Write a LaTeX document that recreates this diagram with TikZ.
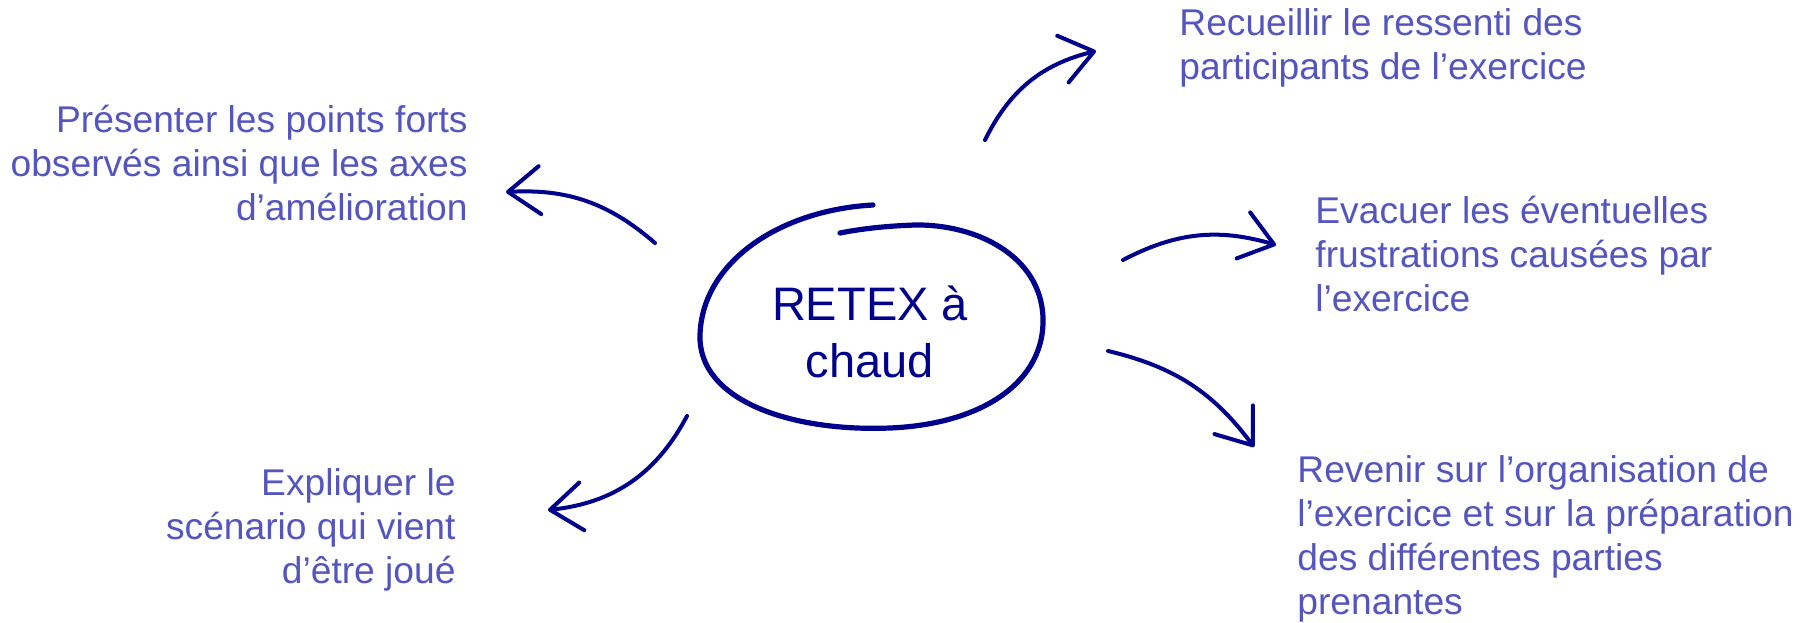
\documentclass[tikz,border=0pt]{standalone}
\usepackage{fontspec}
\setmainfont{Liberation Sans}
\usetikzlibrary{arrows.meta, positioning}
\definecolor{retexnavy}{RGB}{0,0,140}
\definecolor{retexidea}{RGB}{85,85,192}

\begin{document}
\begin{tikzpicture}[x=0.5pt, y=-0.5pt, line cap=round,
  idea/.style={text=retexidea, font=\fontsize{18.6}{22}\selectfont, inner sep=0pt},
  hub/.style={text=retexnavy, font=\fontsize{23.5}{28.5}\selectfont, align=center, inner sep=0pt},
  sketch/.style={retexnavy, line width=2pt, -{Straight Barb[length=16pt, width=24pt, round]}}]
\useasboundingbox (0,0) rectangle (1810,622);
\node[hub] (RETEX) at (870,332) {RETEX à\\chaud};
\node[idea, anchor=north east, align=right] (POINTS)   at (468,105)  {Présenter les points forts\\observés ainsi que les axes\\d’amélioration};
\node[idea, anchor=north west, align=left]  (RESSENTI) at (1179,8)   {Recueillir le ressenti des\\participants de l’exercice};
\node[idea, anchor=north west, align=left]  (FRUSTR)   at (1315,196) {Evacuer les éventuelles\\frustrations causées par\\l’exercice};
\node[idea, anchor=north east, align=right] (SCENARIO) at (456,468)  {Expliquer le\\scénario qui vient\\d’être joué};
\node[idea, anchor=north west, align=left]  (ORGA)     at (1297,455) {Revenir sur l’organisation de\\l’exercice et sur la préparation\\des différentes parties\\prenantes};
% hand drawn loop around the hub
\draw[retexnavy, line width=2.6pt] (873,205) .. controls (780,210) and (702,262) .. (700,335)
  .. controls (698,400) and (790,432) .. (890,428)
  .. controls (985,424) and (1045,380) .. (1043,318)
  .. controls (1041,255) and (975,224) .. (915,225)
  .. controls (885,226) and (860,229) .. (840,233);
% arrow ends
\coordinate (POINTSa)   at (655,243);  \coordinate (POINTSb)   at (506,192);
\coordinate (RESSENTIa) at (985,140);  \coordinate (RESSENTIb) at (1096,51);
\coordinate (FRUSTRa)   at (1123,260); \coordinate (FRUSTRb)   at (1276,245);
\coordinate (ORGAa)     at (1108,351); \coordinate (ORGAb)     at (1254,447);
\coordinate (SCENARIOa) at (687,416);  \coordinate (SCENARIOb) at (548,510);
\path[sketch]
(POINTSa)   edge [bend right=22] (POINTSb)
(RESSENTIa) edge [bend left=25]  (RESSENTIb)
(FRUSTRa)   edge [bend left=22]  (FRUSTRb)
(ORGAa)     edge [bend left=20]  (ORGAb)
(SCENARIOa) edge [bend left=28]  (SCENARIOb);
\end{tikzpicture}
\end{document}
